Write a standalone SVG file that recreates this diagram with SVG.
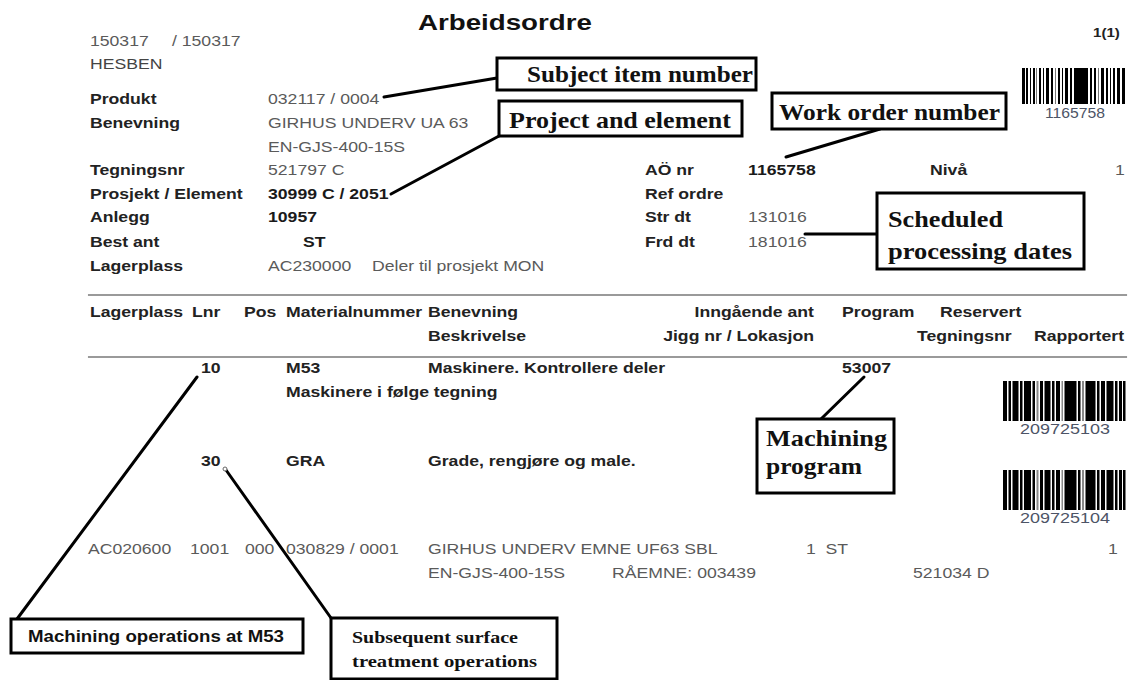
<svg xmlns="http://www.w3.org/2000/svg" width="1131" height="680" viewBox="0 0 1131 680">
  <defs>
    <style>
      .lbl { font-family: "Liberation Sans", Arial, sans-serif; font-size: 14px; font-weight: bold; fill: #222; }
      .val { font-family: "Liberation Sans", Arial, sans-serif; font-size: 14px; fill: #5a5a5a; }
      .vb  { font-family: "Liberation Sans", Arial, sans-serif; font-size: 14px; font-weight: bold; fill: #1a1a1a; }
      .bcn { font-family: "Liberation Sans", Arial, sans-serif; font-size: 15px; fill: #4d5466; }
      .box { fill: #fff; stroke: #000; stroke-width: 3; }
      .cs  { font-family: "Liberation Serif", "Times New Roman", serif; font-size: 23px; font-weight: bold; fill: #111; }
      .cn  { font-family: "Liberation Sans", Arial, sans-serif; font-size: 16px; font-weight: bold; fill: #111; }
      .cs2 { font-family: "Liberation Serif", "Times New Roman", serif; font-size: 17px; font-weight: bold; fill: #111; }
      .rule { stroke: #9a9a9a; stroke-width: 2; }
      .conn { stroke: #000; stroke-width: 3; stroke-linecap: round; fill: none; }
    </style>
    <!-- barcode for operation lines -->
    <g id="bcOp" fill="#000">
      <rect x="0" y="0" width="4" height="40"/>
      <rect x="5.5" y="0" width="2.5" height="40"/>
      <rect x="9.5" y="0" width="6" height="40"/>
      <rect x="17" y="0" width="2.5" height="40"/>
      <rect x="21" y="0" width="7" height="40"/>
      <rect x="29.5" y="0" width="2.5" height="40"/>
      <rect x="33.5" y="0" width="2" height="40" fill="#888"/>
      <rect x="37" y="0" width="3" height="40"/>
      <rect x="41.5" y="0" width="6" height="40"/>
      <rect x="49" y="0" width="2.5" height="40"/>
      <rect x="53" y="0" width="4" height="40"/>
      <rect x="58.5" y="0" width="1.5" height="40" fill="#888"/>
      <rect x="61.5" y="0" width="12" height="40"/>
      <rect x="75" y="0" width="2.5" height="40"/>
      <rect x="79" y="0" width="2" height="40" fill="#888"/>
      <rect x="82.5" y="0" width="10" height="40"/>
      <rect x="94" y="0" width="2.5" height="40"/>
      <rect x="98" y="0" width="4" height="40"/>
      <rect x="103.5" y="0" width="7" height="40"/>
      <rect x="112" y="0" width="2.5" height="40"/>
      <rect x="116" y="0" width="3" height="40"/>
      <rect x="120" y="0" width="2.5" height="40"/>
    </g>
  </defs>

  <rect x="0" y="0" width="1131" height="680" fill="#fff"/>

  <!-- printed work order form (glyphs widened horizontally) -->
  <g id="form" transform="scale(1.26 1)">
    <text x="331.7" y="30" style="font-family:'Liberation Sans',Arial,sans-serif;font-size:22px;font-weight:bold;fill:#111">Arbeidsordre</text>
    <text x="867.5" y="37" style="font-family:'Liberation Sans',Arial,sans-serif;font-size:12px;font-weight:bold;fill:#222">1(1)</text>

    <text class="val" x="71.4" y="46">150317</text>
    <text class="val" x="136.5" y="46">/ 150317</text>
    <text class="val" x="71.4" y="69" style="fill:#444">HESBEN</text>

    <text class="lbl" x="71.4" y="104">Produkt</text>
    <text class="val" x="212.7" y="104">032117 / 0004</text>
    <text class="lbl" x="71.4" y="128">Benevning</text>
    <text class="val" x="212.7" y="128">GIRHUS UNDERV UA 63</text>
    <text class="val" x="212.7" y="152">EN-GJS-400-15S</text>
    <text class="lbl" x="71.4" y="175">Tegningsnr</text>
    <text class="val" x="212.7" y="175">521797 C</text>
    <text class="lbl" x="71.4" y="199">Prosjekt / Element</text>
    <text class="vb" x="212.7" y="199">30999 C / 2051</text>
    <text class="lbl" x="71.4" y="222">Anlegg</text>
    <text class="vb" x="212.7" y="222">10957</text>
    <text class="lbl" x="71.4" y="247">Best ant</text>
    <text class="vb" x="240.5" y="247">ST</text>
    <text class="lbl" x="71.4" y="271">Lagerplass</text>
    <text class="val" x="212.7" y="271">AC230000</text>
    <text class="val" x="295.2" y="271">Deler til prosjekt MON</text>

    <text class="lbl" x="511.9" y="175">AÖ nr</text>
    <text class="vb" x="593.7" y="175">1165758</text>
    <text class="lbl" x="738.1" y="175">Nivå</text>
    <text class="val" x="884.9" y="175">1</text>
    <text class="lbl" x="511.9" y="199">Ref ordre</text>
    <text class="lbl" x="511.9" y="222">Str dt</text>
    <text class="val" x="593.7" y="222">131016</text>
    <text class="lbl" x="511.9" y="247">Frd dt</text>
    <text class="val" x="593.7" y="247">181016</text>

    <line class="rule" x1="69.8" y1="295" x2="894.5" y2="295"/>
    <text class="lbl" x="71.4" y="317">Lagerplass</text>
    <text class="lbl" x="152.4" y="317">Lnr</text>
    <text class="lbl" x="193.7" y="317">Pos</text>
    <text class="lbl" x="227" y="317">Materialnummer</text>
    <text class="lbl" x="339.7" y="317">Benevning</text>
    <text class="lbl" x="646" y="317" text-anchor="end">Inngående ant</text>
    <text class="lbl" x="668.3" y="317">Program</text>
    <text class="lbl" x="746" y="317">Reservert</text>
    <text class="lbl" x="339.7" y="341">Beskrivelse</text>
    <text class="lbl" x="646" y="341" text-anchor="end">Jigg nr / Lokasjon</text>
    <text class="lbl" x="727.8" y="341">Tegningsnr</text>
    <text class="lbl" x="820.6" y="341">Rapportert</text>
    <line class="rule" x1="69.8" y1="357" x2="894.5" y2="357"/>

    <text class="lbl" x="159.5" y="373">10</text>
    <text class="lbl" x="227" y="373">M53</text>
    <text class="lbl" x="339.7" y="373">Maskinere. Kontrollere deler</text>
    <text class="lbl" x="668.3" y="373">53007</text>
    <text class="lbl" x="227" y="397">Maskinere i følge tegning</text>

    <text class="lbl" x="159.5" y="466">30</text>
    <text class="lbl" x="227" y="466">GRA</text>
    <text class="lbl" x="339.7" y="466">Grade, rengjøre og male.</text>

    <text class="val" x="69.8" y="554">AC020600</text>
    <text class="val" x="150.8" y="554">1001</text>
    <text class="val" x="194.4" y="554">000</text>
    <text class="val" x="227" y="554">030829 / 0001</text>
    <text class="val" x="339.7" y="554">GIRHUS UNDERV EMNE UF63 SBL</text>
    <text class="val" x="639.7" y="554" xml:space="preserve">1  ST</text>
    <text class="val" x="879.4" y="554">1</text>
    <text class="val" x="339.7" y="578">EN-GJS-400-15S</text>
    <text class="val" x="485.7" y="578">RÅEMNE: 003439</text>
    <text class="val" x="724.6" y="578">521034 D</text>
  </g>

  <!-- barcodes -->
  <g id="barcode-order" fill="#000">
    <rect x="1022" y="68" width="3" height="36"/>
    <rect x="1026" y="68" width="2" height="36"/>
    <rect x="1030" y="68" width="1" height="36"/>
    <rect x="1033" y="68" width="2" height="36"/>
    <rect x="1036" y="68" width="1" height="36" fill="#777"/>
    <rect x="1039" y="68" width="2" height="36"/>
    <rect x="1043" y="68" width="1" height="36"/>
    <rect x="1046" y="68" width="3" height="36"/>
    <rect x="1051" y="68" width="2" height="36"/>
    <rect x="1055" y="68" width="1" height="36" fill="#777"/>
    <rect x="1058" y="68" width="2" height="36"/>
    <rect x="1062" y="68" width="1" height="36"/>
    <rect x="1065" y="68" width="3" height="36"/>
    <rect x="1070" y="68" width="2" height="36"/>
    <rect x="1074" y="68" width="14" height="36"/>
    <rect x="1090" y="68" width="2" height="36"/>
    <rect x="1094" y="68" width="2" height="36"/>
    <rect x="1098" y="68" width="1" height="36" fill="#777"/>
    <rect x="1101" y="68" width="3" height="36"/>
    <rect x="1106" y="68" width="2" height="36"/>
    <rect x="1110" y="68" width="1" height="36"/>
    <rect x="1113" y="68" width="2" height="36"/>
    <rect x="1117" y="68" width="3" height="36"/>
    <rect x="1122" y="68" width="3" height="36"/>
    <text class="bcn" x="1045" y="118" textLength="60" lengthAdjust="spacingAndGlyphs">1165758</text>
  </g>
  <g id="barcode-op10">
    <use href="#bcOp" x="1003" y="381"/>
    <text class="bcn" x="1020" y="434" textLength="90" lengthAdjust="spacingAndGlyphs">209725103</text>
  </g>
  <g id="barcode-op30">
    <use href="#bcOp" x="1003" y="470"/>
    <text class="bcn" x="1020" y="523" textLength="90" lengthAdjust="spacingAndGlyphs">209725104</text>
  </g>

  <!-- connectors from callouts to fields -->
  <g id="connectors">
    <line class="conn" x1="384" y1="97" x2="497" y2="78"/>
    <line class="conn" x1="391" y1="194" x2="499" y2="136"/>
    <line class="conn" x1="786" y1="157" x2="880" y2="129"/>
    <line class="conn" x1="805" y1="234" x2="877" y2="234"/>
    <line class="conn" x1="864" y1="377" x2="821" y2="419"/>
    <line class="conn" x1="197" y1="377" x2="17" y2="619"/>
    <line class="conn" x1="226" y1="470" x2="331" y2="618"/>
    <circle cx="225" cy="469" r="2" fill="#fff" stroke="#666" stroke-width="1"/>
  </g>

  <!-- callouts -->
  <g id="callout-subject">
    <rect class="box" x="497" y="58" width="259" height="32"/>
    <text class="cs" x="527" y="82" textLength="226" lengthAdjust="spacingAndGlyphs">Subject item number</text>
  </g>
  <g id="callout-project">
    <rect class="box" x="499" y="101" width="243" height="35"/>
    <text class="cs" x="509" y="128" textLength="222" lengthAdjust="spacingAndGlyphs">Project and element</text>
  </g>
  <g id="callout-workorder">
    <rect class="box" x="772" y="93" width="234" height="36"/>
    <text class="cs" x="779" y="120" textLength="221" lengthAdjust="spacingAndGlyphs">Work order number</text>
  </g>
  <g id="callout-dates">
    <rect class="box" x="877" y="193" width="207" height="76"/>
    <text class="cs" x="888" y="227" textLength="115" lengthAdjust="spacingAndGlyphs">Scheduled</text>
    <text class="cs" x="888" y="259" textLength="184" lengthAdjust="spacingAndGlyphs">processing dates</text>
  </g>
  <g id="callout-program">
    <rect class="box" x="757" y="419" width="137" height="74"/>
    <text class="cs" x="766" y="446" textLength="121" lengthAdjust="spacingAndGlyphs">Machining</text>
    <text class="cs" x="766" y="474" textLength="96" lengthAdjust="spacingAndGlyphs">program</text>
  </g>
  <g id="callout-m53">
    <rect class="box" x="11" y="619" width="292" height="34"/>
    <text class="cn" x="28" y="642" textLength="256" lengthAdjust="spacingAndGlyphs">Machining operations at M53</text>
  </g>
  <g id="callout-surface">
    <rect class="box" x="331" y="618" width="226" height="61"/>
    <text class="cs2" x="352" y="643" textLength="166" lengthAdjust="spacingAndGlyphs">Subsequent surface</text>
    <text class="cs2" x="352" y="667" textLength="185" lengthAdjust="spacingAndGlyphs">treatment operations</text>
  </g>
</svg>
